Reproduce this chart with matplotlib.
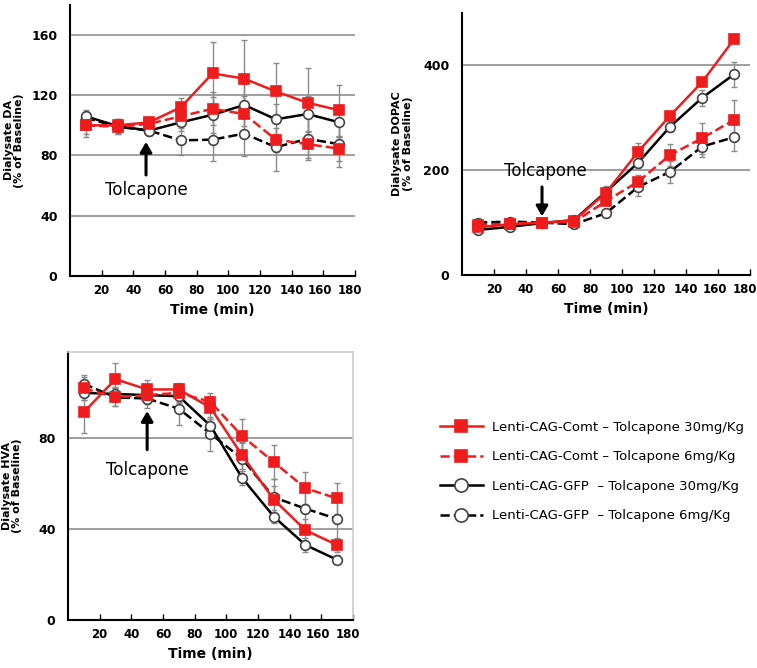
import matplotlib
matplotlib.use("Agg")
import matplotlib.pyplot as plt
from matplotlib.lines import Line2D
from matplotlib.transforms import ScaledTranslation

plt.rcParams['font.family'] = ['DejaVu Sans']

time = [10, 30, 50, 70, 90, 110, 130, 150, 170]
xticks = [20, 40, 60, 80, 100, 120, 140, 160, 180]

# Dialysate DA
da_comt30 = [100, 100, 102, 112, 134.5, 131, 122.5, 115, 110]
da_comt30_err = [8, 4, 3, 6, 21, 26, 19, 23, 17]
da_comt6 = [100, 99, 101, 106, 111, 107.5, 90.5, 87.5, 84.5]
da_comt6_err = [6, 4, 3, 8, 11, 12, 8, 9, 8]
da_gfp30 = [106, 99.5, 96.5, 102, 107, 113.5, 104, 107.5, 102]
da_gfp30_err = [4, 5, 3, 6, 12, 14, 10, 12, 10]
da_gfp6 = [105, 99, 96.5, 90, 90.5, 94.5, 85.5, 91, 87.5]
da_gfp6_err = [4, 5, 3, 10, 14, 15, 16, 14, 15]

# Dialysate DOPAC
dopac_comt30 = [91, 97, 100, 104, 157, 235, 304, 368, 450]
dopac_comt30_err = [4, 4, 3, 4, 8, 16, 8, 8, 8]
dopac_comt6 = [96, 98, 100, 101, 141, 178, 229, 261, 296]
dopac_comt6_err = [4, 4, 3, 4, 8, 12, 21, 30, 38]
dopac_gfp30 = [86, 92, 99, 105, 159, 214, 283, 338, 383]
dopac_gfp30_err = [4, 4, 3, 4, 10, 10, 10, 15, 24]
dopac_gfp6 = [100, 102, 100, 97, 118, 168, 197, 245, 263]
dopac_gfp6_err = [4, 4, 3, 4, 8, 17, 21, 20, 26]

# Dialysate HVA
hva_comt30 = [91.5, 106, 101.5, 101.5, 93.5, 72.5, 53, 39.5, 33]
hva_comt30_err = [9, 7, 4, 3, 5, 6, 6, 5, 3]
hva_comt6 = [102, 98, 99, 100, 96, 81, 69.5, 58, 53.5]
hva_comt6_err = [5, 4, 4, 4, 4, 7.5, 7.5, 7, 7]
hva_gfp30 = [100, 99.5, 99, 98.5, 85.5, 62.5, 45.5, 33, 26.5]
hva_gfp30_err = [3, 3, 3, 3, 3, 3, 3, 3, 2]
hva_gfp6 = [104, 98, 97.5, 93, 82, 71, 54, 49, 44.5]
hva_gfp6_err = [4, 4, 4, 7, 7.5, 7, 8, 10, 9]

legend_labels = ["Lenti-CAG-Comt \u2013 Tolcapone 30mg/Kg",
                 "Lenti-CAG-Comt \u2013 Tolcapone 6mg/Kg",
                 "Lenti-CAG-GFP  \u2013 Tolcapone 30mg/Kg",
                 "Lenti-CAG-GFP  \u2013 Tolcapone 6mg/Kg"]

RED = '#ee1c1c'
styles = [
    dict(color=RED, ls='-', marker='s', mfc=RED, mec=RED, ms=6.5),
    dict(color=RED, ls='--', marker='s', mfc=RED, mec=RED, ms=6.5),
    dict(color='black', ls='-', marker='o', mfc='white', mec='#444444', ms=7),
    dict(color='black', ls='--', marker='o', mfc='white', mec='#444444', ms=7),
]

fig = plt.figure(figsize=(7.57, 6.68), dpi=100)


def draw(ax, series, errs, ylim, yticks, ylabel, label_x, arrow, text_xy, box=False):
    ax.set_xlim(0, 180)
    ax.set_ylim(*ylim)
    for yv in yticks[1:]:
        ax.axhline(yv, color='#8f8f8f', lw=1.2, zorder=0)
    order = [3, 1, 2, 0]
    for i in order:
        ax.errorbar(time, series[i], yerr=errs[i], fmt='none', ecolor='#8a8a8a',
                    elinewidth=1, capsize=2.5, capthick=1, zorder=1)
    for i in order:
        st = styles[i]
        ax.plot(time, series[i], color=st['color'], ls=st['ls'], lw=1.8,
                marker=st['marker'], mfc=st['mfc'], mec=st['mec'], ms=st['ms'],
                mew=1.2, zorder=3 + (1 if i < 2 else 0))
    ax.set_xticks(xticks)
    ax.set_xticklabels([str(v) for v in xticks], fontsize=8.5, fontweight='bold')
    ax.set_yticks(yticks)
    ax.set_yticklabels([str(v) for v in yticks], fontsize=9, fontweight='bold')
    ax.tick_params(axis='x', direction='in', length=4, width=1, pad=6)
    ax.tick_params(axis='y', length=0, pad=9)
    labs = ax.get_xticklabels()
    labs[-1].set_transform(labs[-1].get_transform() + ScaledTranslation(-0.05, 0, fig.dpi_scale_trans))
    labs[-2].set_transform(labs[-2].get_transform() + ScaledTranslation(-0.03, 0, fig.dpi_scale_trans))
    ax.set_xlabel('Time (min)', fontsize=10, fontweight='bold', labelpad=4)
    ax.set_ylabel(ylabel, fontsize=8, fontweight='bold', linespacing=1.1)
    ax.yaxis.set_label_coords(label_x, 0.5)
    for s in ['left', 'bottom']:
        ax.spines[s].set_linewidth(1.5)
    if box:
        for s in ['top', 'right']:
            ax.spines[s].set_color('#cccccc')
            ax.spines[s].set_linewidth(1.2)
    else:
        ax.spines['top'].set_visible(False)
        ax.spines['right'].set_visible(False)
    (x0, y0, y1) = arrow
    ax.annotate('', xy=(x0, y1), xytext=(x0, y0),
                arrowprops=dict(arrowstyle='-|>,head_width=0.35,head_length=0.6',
                                color='black', lw=2.2, shrinkA=0, shrinkB=0))
    ax.text(text_xy[0], text_xy[1], 'Tolcapone', fontsize=12, ha='center', va='center')


ax1 = fig.add_axes([0.0925, 0.587, 0.3765, 0.4057])
draw(ax1, [da_comt30, da_comt6, da_gfp30, da_gfp6],
     [da_comt30_err, da_comt6_err, da_gfp30_err, da_gfp6_err],
     (0, 180), [0, 40, 80, 120, 160], 'Dialysate DA\n(% of Baseline)', -0.16,
     (48, 67, 89), (48, 57))

ax2 = fig.add_axes([0.6103, 0.5883, 0.3805, 0.3922])
draw(ax2, [dopac_comt30, dopac_comt6, dopac_gfp30, dopac_gfp6],
     [dopac_comt30_err, dopac_comt6_err, dopac_gfp30_err, dopac_gfp6_err],
     (0, 500), [0, 200, 400], 'Dialysate DOPAC\n(% of Baseline)', -0.17,
     (50, 168, 112), (52, 198))

ax3 = fig.add_axes([0.0898, 0.0719, 0.3765, 0.4012])
draw(ax3, [hva_comt30, hva_comt6, hva_gfp30, hva_gfp6],
     [hva_comt30_err, hva_comt6_err, hva_gfp30_err, hva_gfp6_err],
     (0, 118), [0, 40, 80], 'Dialysate HVA\n(% of Baseline)', -0.16,
     (50, 75, 92), (50, 66), box=True)

handles = []
for st in styles:
    handles.append(Line2D([], [], color=st['color'], ls=st['ls'], lw=1.8,
                          marker=st['marker'], mfc=st['mfc'], mec=st['mec'],
                          ms=st['ms'] + 2.5, mew=1.2))
fig.legend(handles, legend_labels, loc='upper left', bbox_to_anchor=(0.565, 0.388),
           frameon=False, fontsize=9.5, handlelength=3.3, labelspacing=1.25,
           handletextpad=0.7)

fig.savefig('out.png', dpi=100)
